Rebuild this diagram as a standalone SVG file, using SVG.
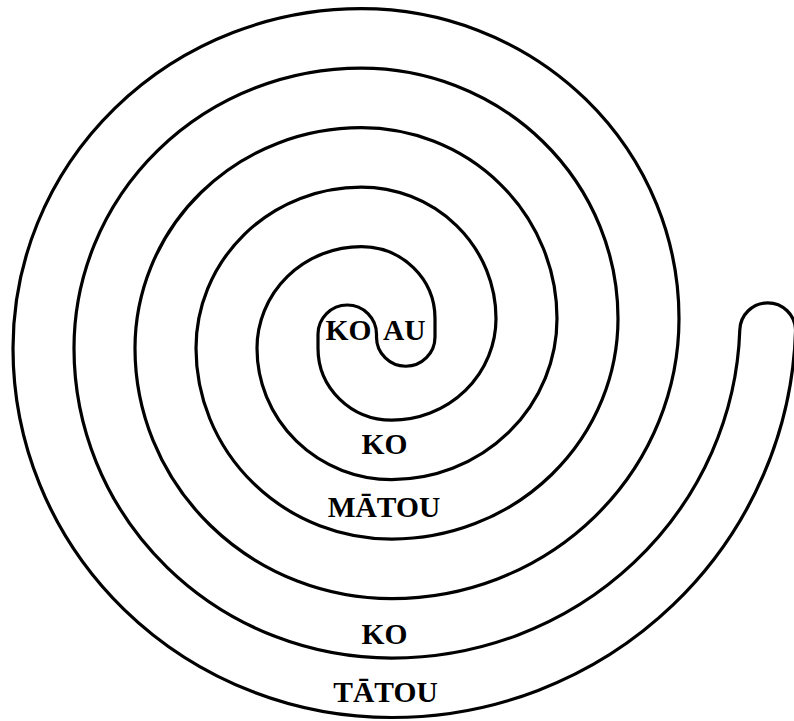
<svg xmlns="http://www.w3.org/2000/svg" width="794" height="721" viewBox="0 0 794 721">
<style>
.spiral{fill:none;stroke:#000;stroke-width:3.2;stroke-linejoin:round}
.lbl{font-family:"Liberation Serif","Times New Roman",serif;font-weight:bold;font-size:29.5px;fill:#000;text-anchor:middle}
</style>
<rect width="794" height="721" fill="#fff"/>
<g id="spiral">
<path class="spiral" d="M 376.5 334.25
A 29.25 29.25 0 0 0 318 334.25
L 318 348.24
A 73.75 71.91 0 0 0 391.75 420.15
A 104.25 101.64 0 0 0 496 318.5
A 134.75 131.38 0 0 0 361.25 187.12
A 165.25 161.12 0 0 0 196 348.24
A 195.75 190.86 0 0 0 391.75 539.10
A 226.25 220.59 0 0 0 618 318.5
A 256.75 250.33 0 0 0 361.25 68.17
A 287.25 280.07 0 0 0 74 348.24
A 317.75 309.81 0 0 0 391.75 658.05
A 348.25 339.54 0 0 0 739.8 330
A 27.9 27.9 0 0 1 795.58 330
A 404 399.02 0 0 1 391.75 717.52
A 378.75 369.28 0 0 1 13 348.24
A 348.25 339.54 0 0 1 361.25 8.70
A 317.75 309.81 0 0 1 679 318.5
A 287.25 280.07 0 0 1 391.75 598.57
A 256.75 250.33 0 0 1 135 348.24
A 226.25 220.59 0 0 1 361.25 127.65
A 195.75 190.86 0 0 1 557 318.5
A 165.25 161.12 0 0 1 391.75 479.62
A 134.75 131.38 0 0 1 257 348.24
A 104.25 101.64 0 0 1 361.25 246.60
A 73.75 71.91 0 0 1 435 318.5
L 435 337
A 29.25 29.25 0 0 1 376.5 337
Z"/>
</g>
<g id="labels">
<text class="lbl" x="348.4" y="340">KO</text>
<text class="lbl" x="404.3" y="340">AU</text>
<text class="lbl" x="384.5" y="453.5">KO</text>
<text class="lbl" x="384" y="516.5">MĀTOU</text>
<text class="lbl" x="384.5" y="643.5">KO</text>
<text class="lbl" x="385.5" y="701.5">TĀTOU</text>
</g>
</svg>
